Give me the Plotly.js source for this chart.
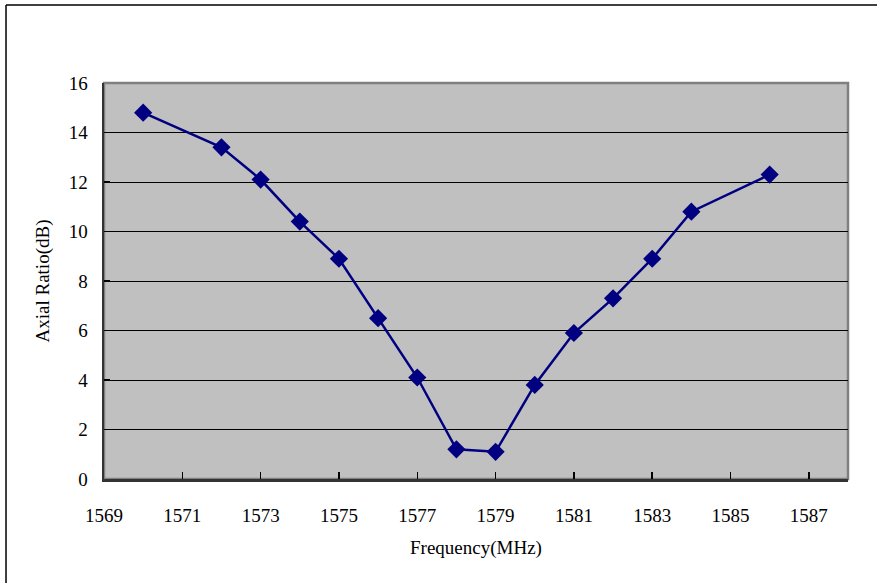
<!DOCTYPE html>
<html>
<head>
<meta charset="utf-8">
<script src="https://cdn.plot.ly/plotly-3.0.1.min.js"></script>
<style>html,body{margin:0;padding:0;background:#fff;}#chart{width:877px;height:583px;}</style>
</head>
<body>
<div id="chart"></div>
<script>
var frequency = [1570, 1572, 1573, 1574, 1575, 1576, 1577, 1578, 1579, 1580, 1581, 1582, 1583, 1584, 1586];
var axialRatio = [14.8, 13.4, 12.1, 10.4, 8.9, 6.5, 4.1, 1.2, 1.1, 3.8, 5.9, 7.3, 8.9, 10.8, 12.3];
var xTicks = [1569, 1571, 1573, 1575, 1577, 1579, 1581, 1583, 1585, 1587];
var yTicks = [0, 2, 4, 6, 8, 10, 12, 14, 16];

var font = 'Liberation Serif';
var trace = {
  x: frequency, y: axialRatio, type: 'scatter', mode: 'lines+markers',
  line: {color: '#000080', width: 2.5},
  marker: {symbol: 'diamond', size: 14, color: '#000080'},
  showlegend: false
};
var layout = {
  width: 877, height: 583,
  margin: {l: 104, r: 29, t: 83, b: 104},
  paper_bgcolor: '#ffffff', plot_bgcolor: '#c0c0c0',
  font: {family: font, size: 19, color: '#000'},
  xaxis: {
    range: [1569, 1588], tickvals: xTicks, ticktext: xTicks.map(String),
    ticks: 'inside', ticklen: 7, tickcolor: '#000', tickwidth: 1.5,
    showgrid: false, zeroline: false,
    showline: true, linecolor: '#333', linewidth: 2.5,
    ticklabelstandoff: 18,
    tickfont: {family: font, size: 19},
    title: {text: 'Frequency(MHz)', font: {family: font, size: 19}, standoff: 16}
  },
  yaxis: {
    range: [0, 16], tickvals: yTicks, ticktext: yTicks.map(String),
    ticks: 'inside', ticklen: 6, tickcolor: '#000', tickwidth: 1.5,
    showgrid: true, gridcolor: '#000', gridwidth: 1, zeroline: false,
    showline: true, linecolor: '#333', linewidth: 2.5,
    ticklabelstandoff: 10,
    tickfont: {family: font, size: 19},
    title: {text: 'Axial Ratio(dB)', font: {family: font, size: 19}, standoff: 14}
  },
  shapes: [
    {type: 'rect', xref: 'paper', yref: 'paper', x0: 0, x1: 1, y0: 0, y1: 1,
     line: {color: '#808080', width: 2.5}, layer: 'below'},
    {type: 'line', xref: 'paper', yref: 'paper', x0: -0.1317, x1: 1.1, y0: 1.197, y1: 1.197,
     line: {color: '#000', width: 1.5}},
    {type: 'line', xref: 'paper', yref: 'paper', x0: -0.1317, x1: -0.1317, y0: 1.197, y1: -0.3,
     line: {color: '#000', width: 1.5}}
  ]
};
Plotly.newPlot('chart', [trace], layout, {displayModeBar: false, staticPlot: true});
</script>
</body>
</html>
